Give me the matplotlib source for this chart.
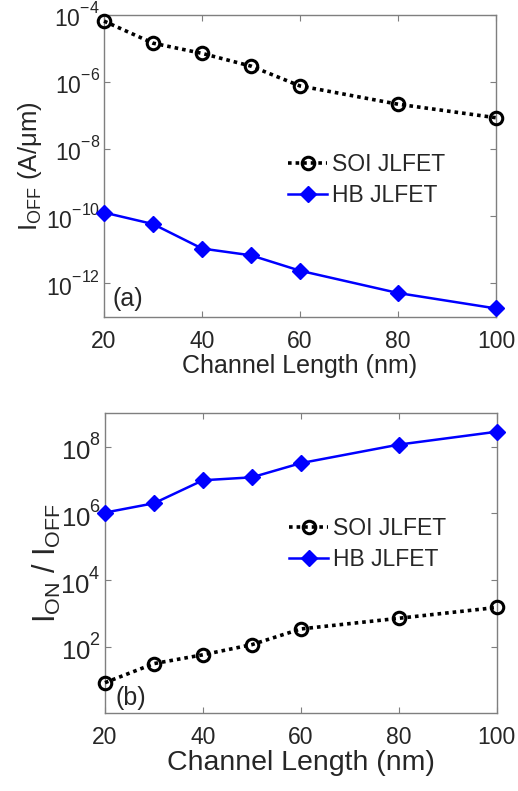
import math
import matplotlib
matplotlib.use("Agg")
import matplotlib.pyplot as plt
import matplotlib._mathtext as mathtext_impl
from matplotlib.ticker import FixedLocator, FuncFormatter, NullLocator

plt.rcParams['font.family'] = ['Liberation Sans', 'DejaVu Sans']
plt.rcParams['mathtext.fontset'] = 'custom'
plt.rcParams['mathtext.rm'] = 'Liberation Sans'
plt.rcParams['mathtext.it'] = 'Liberation Sans:italic'
plt.rcParams['mathtext.bf'] = 'Liberation Sans:bold'
# raise exponents a little higher, as in MATLAB-style log tick labels
mathtext_impl.FontConstantsBase.sup1 = 1.0

# Channel length (nm)
channel_length = [20, 30, 40, 50, 60, 80, 100]

# Off-state current (A/um)
ioff_soi = [6.6e-5, 1.45e-5, 7.2e-6, 3.0e-6, 7.7e-7, 2.2e-7, 8.7e-8]
ioff_hb = [1.3e-10, 5.9e-11, 1.1e-11, 6.9e-12, 2.4e-12, 5.2e-13, 1.8e-13]

# On/off current ratio
ratio_soi = [8.3, 31, 57, 115, 340, 710, 1500]
ratio_hb = [1.05e6, 2.0e6, 9.8e6, 1.2e7, 3.2e7, 1.15e8, 2.8e8]

xticks = [20, 40, 60, 80, 100]
yticks_a = [1e-12, 1e-10, 1e-8, 1e-6, 1e-4]
yticks_b = [1e2, 1e4, 1e6, 1e8]

labels = ["SOI JLFET", "HB JLFET"]

TXT = '#262626'
SPINE = '#7f7f7f'


def exp_fmt(v, pos):
    e = int(round(math.log10(v)))
    return r'$\mathregular{10^{%d}}$' % e


def style_axes(ax, yticks, ylim, ysize):
    ax.set_yscale('log')
    ax.set_xlim(20, 100)
    ax.set_ylim(*ylim)
    ax.xaxis.set_major_locator(FixedLocator(xticks))
    ax.yaxis.set_major_locator(FixedLocator(yticks))
    ax.yaxis.set_minor_locator(NullLocator())
    ax.xaxis.set_minor_locator(NullLocator())
    ax.yaxis.set_major_formatter(FuncFormatter(exp_fmt))
    ax.tick_params(direction='in', length=4, width=0.8, colors=SPINE,
                   labelcolor=TXT, top=True, right=True)
    ax.tick_params(axis='x', pad=9, labelsize=16.5)
    ax.tick_params(axis='y', pad=3, labelsize=ysize)
    for s in ax.spines.values():
        s.set_color(SPINE)
        s.set_linewidth(1.0)


def draw_series(ax, soi, hb):
    ax.plot(channel_length, soi, color='black', linestyle=(0, (1, 1.1)),
            linewidth=2.6, marker='o', markersize=9, markerfacecolor='none',
            markeredgewidth=2.2, markeredgecolor='black', label=labels[0],
            clip_on=False, zorder=3)
    ax.plot(channel_length, hb, color='blue', linestyle='-', linewidth=1.8,
            marker='D', markersize=8.5, markerfacecolor='blue',
            markeredgecolor='blue', label=labels[1], clip_on=False, zorder=3)


fig = plt.figure(figsize=(5.18, 7.91), dpi=100)

ax1 = fig.add_axes([0.2008, 0.5992, 0.7568, 0.3818])
draw_series(ax1, ioff_soi, ioff_hb)
style_axes(ax1, yticks_a, (1e-13, 1e-4), 16.5)
ax1.set_xlabel('Channel Length (nm)', fontsize=18, color=TXT, labelpad=1)
ax1.set_ylabel(r'I$_{\mathregular{OFF}}$ (A/μm)', fontsize=18.5, color=TXT, labelpad=1)
ax1.legend(loc='center left', bbox_to_anchor=(0.47, 0.455), frameon=False,
           fontsize=16.5, handlelength=1.7, handletextpad=0.2,
           labelspacing=0.35, borderpad=0, borderaxespad=0, labelcolor=TXT)
ax1.text(0.022, 0.02, '(a)', transform=ax1.transAxes, fontsize=18, color=TXT,
         ha='left', va='bottom')

ax2 = fig.add_axes([0.2027, 0.0982, 0.7562, 0.3793])
draw_series(ax2, ratio_soi, ratio_hb)
style_axes(ax2, yticks_b, (1, 1e9), 18.5)
ax2.set_xlabel('Channel Length (nm)', fontsize=20.5, color=TXT, labelpad=1)
ax2.set_ylabel(r'I$_{\mathregular{ON}}$ / I$_{\mathregular{OFF}}$', fontsize=22,
               color=TXT, labelpad=-2)
ax2.legend(loc='center left', bbox_to_anchor=(0.47, 0.564), frameon=False,
           fontsize=16.5, handlelength=1.7, handletextpad=0.2,
           labelspacing=0.35, borderpad=0, borderaxespad=0, labelcolor=TXT)
ax2.text(0.028, 0.01, '(b)', transform=ax2.transAxes, fontsize=18, color=TXT,
         ha='left', va='bottom')

fig.savefig('out.png', dpi=100)
